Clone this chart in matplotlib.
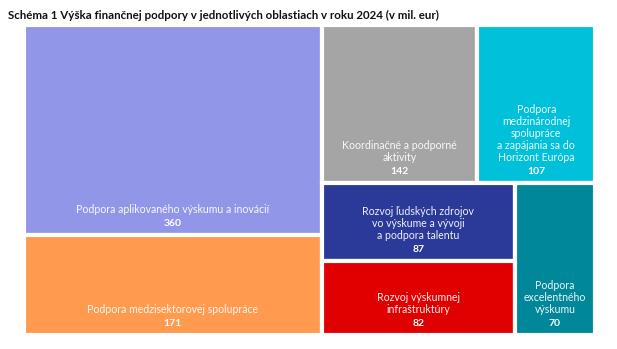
import matplotlib.pyplot as plt
from matplotlib.patches import Rectangle

# data
labels = [
    "Podpora aplikovaného výskumu a inovácií",
    "Podpora medzisektorovej spolupráce",
    "Koordinačné a podporné\naktivity",
    "Podpora\nmedzinárodnej\nspolupráce\na zapájania sa do\nHorizont Európa",
    "Rozvoj ľudských zdrojov\nvo výskume a vývoji\na podpora talentu",
    "Rozvoj výskumnej\ninfraštruktúry",
    "Podpora\nexcelentného\nvýskumu",
]
values = [360, 171, 142, 107, 87, 82, 70]
colors = ["#9296E8", "#FF9A4F", "#A5A5A5", "#00C1D9", "#2B3A98", "#E00000", "#00879A"]

# treemap structure: 'h' = side by side, 'v' = stacked (first on top)
tree = ("h", [("v", [0, 1]),
              ("v", [("h", [2, 3]),
                     ("h", [("v", [4, 5]), 6])])])


def total(node):
    if isinstance(node, int):
        return values[node]
    return sum(total(c) for c in node[1])


def layout(node, x, y, w, h, out):
    if isinstance(node, int):
        out[node] = (x, y, w, h)
        return
    kind, kids = node
    s = total(node)
    if kind == "h":
        for c in kids:
            cw = w * total(c) / s
            layout(c, x, y, cw, h, out)
            x += cw
    else:
        top = y + h
        for c in kids:
            ch = h * total(c) / s
            top -= ch
            layout(c, x, top, w, ch, out)


rects = {}
layout(tree, 0, 0, 1, 1, rects)

plt.rcParams['font.family'] = ['Lato', 'DejaVu Sans']
fig = plt.figure(figsize=(6.17, 3.49), dpi=100)
ax = fig.add_axes([24 / 617, 1 - 335 / 349, 571 / 617, 310 / 349])
ax.set_xlim(0, 1)
ax.set_ylim(0, 1)
ax.axis('off')

for i in range(len(values)):
    x, y, w, h = rects[i]
    ax.add_patch(Rectangle((x, y), w, h, facecolor=colors[i], edgecolor='white', linewidth=3))
    cx = x + w / 2
    ax.annotate(str(values[i]), (cx, y), xytext=(0, 8.5), textcoords='offset points',
                ha='center', va='center', color='white', fontsize=7.5, fontweight='bold')
    ax.annotate(labels[i], (cx, y), xytext=(0, 14.5), textcoords='offset points',
                ha='center', va='bottom', color='white', alpha=0.92, fontsize=7.6,
                multialignment='center', linespacing=1.1)

fig.text(8 / 617, 1 - 15 / 349, "Schéma 1 Výška finančnej podpory v jednotlivých oblastiach v roku 2024 (v mil. eur)",
         ha='left', va='center', fontsize=8.3, fontweight='bold', color='#111111')

fig.savefig('out.png', dpi=100)
